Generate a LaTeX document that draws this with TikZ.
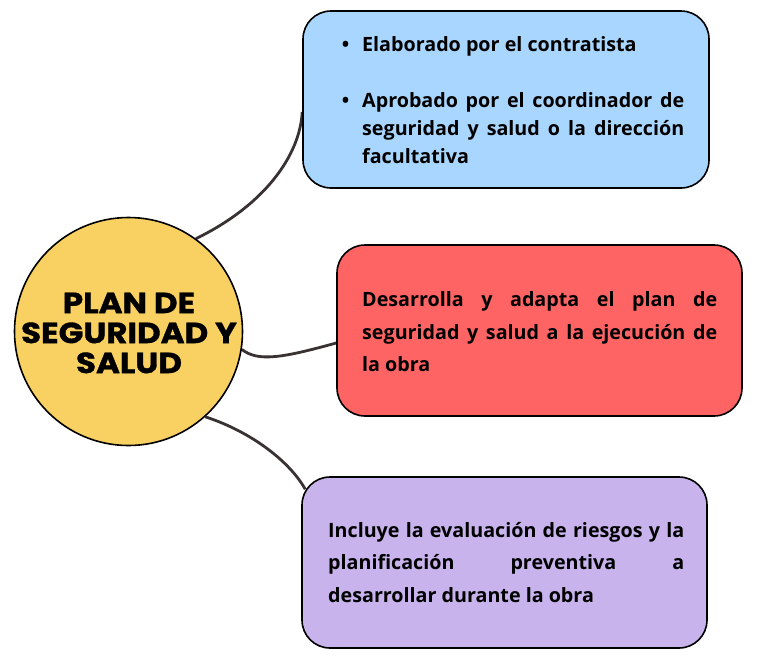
\documentclass[tikz,border=0pt]{standalone}
\usepackage{fontspec}
\usetikzlibrary{backgrounds}
\setmainfont{Open Sans}
\newfontfamily\titlefont{Poppins}[BoldFeatures={FakeStretch=1.12,FakeBold=1.2}]
\definecolor{bluec}{HTML}{A9D6FE}
\definecolor{redc}{HTML}{FF6464}
\definecolor{purplec}{HTML}{C8B3EC}
\definecolor{yellowc}{HTML}{F9D162}
\definecolor{linkc}{HTML}{3A3232}
\begin{document}
\begin{tikzpicture}[x=1pt,y=-1pt,
  box/.style={draw=black, line width=1.6pt, rounded corners=28pt},
  txt/.style={anchor=west, inner sep=0pt, align=justify, font=\bfseries\fontsize{19.7}{28}\selectfont},
  link/.style={draw=linkc, line width=2.8pt}]
\useasboundingbox (0,0) rectangle (758,662);
\node[circle, draw=black, line width=1.6pt, fill=yellowc, minimum size=228pt, inner sep=0pt] (c) at (128.5,331.5) {};
\node[box, fill=bluec, minimum width=406pt, minimum height=177pt] (blue) at (506,99.5) {};
\node[box, fill=redc, minimum width=405pt, minimum height=171pt] (red) at (539.5,330.5) {};
\node[box, fill=purplec, minimum width=405pt, minimum height=171pt] (purple) at (504.5,562.5) {};
\begin{scope}[on background layer]
\draw[link] (c.54) .. controls (265,205) and (300,155) .. ([yshift=-12.5pt]blue.west);
\draw[link] (c.-9) .. controls (258,362) and (282,358) .. ([yshift=-12.5pt]red.west);
\draw[link] (c.-48) .. controls (252,432) and (290,462) .. ([xshift=4pt,yshift=-13pt]purple.north west);
\end{scope}
\node[font=\titlefont\bfseries\fontsize{29}{30}\selectfont, align=center] (title) at (129,333) {PLAN DE\\SEGURIDAD Y\\SALUD};
\node[txt, text width=346pt] (tblue) at (338,93.5) {%
\begin{list}{\textbullet}{\setlength\leftmargin{24pt}\setlength\labelwidth{11pt}\setlength\labelsep{13pt}\setlength\itemsep{28pt}\setlength\topsep{0pt}\setlength\partopsep{0pt}\setlength\parsep{0pt}}
\item Elaborado por el contratista
\item Aprobado por el coordinador de\linebreak seguridad y salud o la dirección\linebreak facultativa
\end{list}};
\node[txt, text width=355pt, font=\bfseries\fontsize{19.7}{32.5}\selectfont] (tred) at (362,332) {Desarrolla y adapta el plan de\linebreak seguridad y salud a la ejecución de\linebreak la obra};
\node[txt, text width=356pt, font=\bfseries\fontsize{19.7}{32.5}\selectfont] (tpurple) at (328,562.5) {Incluye la evaluación de riesgos y la\linebreak planificación preventiva a\linebreak desarrollar durante la obra};
\end{tikzpicture}
\end{document}
